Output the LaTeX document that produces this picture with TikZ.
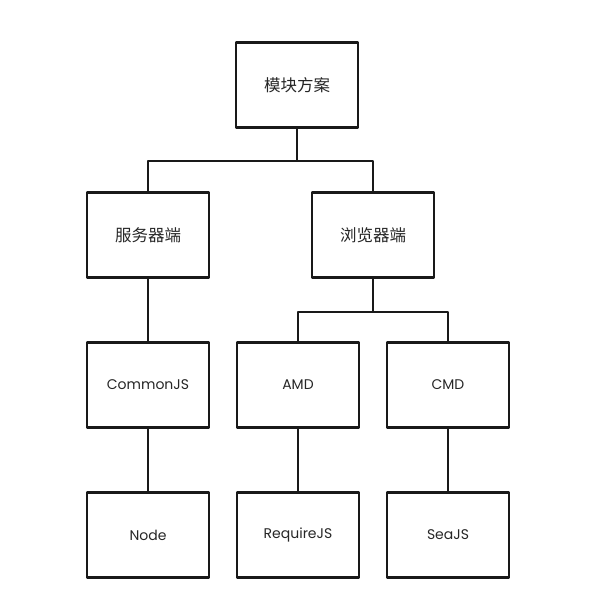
\documentclass[tikz,border=0pt]{standalone}
\usepackage{fontspec}
\setmainfont{Poppins}
\newfontfamily\cjk{Noto Sans CJK SC}
\usetikzlibrary{positioning}

\begin{document}
\begin{tikzpicture}
[x = 1pt, y = 1pt, line cap = round, line join = round,
module box/.style = {draw = black!90, line width = 2.4pt, minimum width = 122pt, minimum height = 85pt, inner sep = 0pt, text = black!85, font = \fontsize{14}{16}\selectfont},
cn box/.style = {module box, font = \cjk\fontsize{16.5}{18}\selectfont},
branch line/.style = {draw = black!90, line width = 1.6pt}]

\useasboundingbox (0, 0) rectangle (590, -610);

% top and second row
\node[cn box] (plan) at (297, -85) {模块方案};
\node[cn box] (server) at (148, -235) {服务器端};
\node[cn box] (browser) at (373, -235) {浏览器端};

% specifications
\node[module box, below = 62.6pt of server] (commonjs) {CommonJS};
\node[module box] (amd) at (298, -385) {AMD};
\node[module box, right = 25.6pt of amd] (cmd) {CMD};

% implementations
\node[module box, below = 62.6pt of commonjs] (node) {Node};
\node[module box, below = 62.6pt of amd] (requirejs) {RequireJS};
\node[module box, below = 62.6pt of cmd] (seajs) {SeaJS};

\begin{scope}[branch line]
\draw (plan.south) -- ++(0, -32) -| (server.north);
\draw (plan.south) -- ++(0, -32) -| (browser.north);
\draw (browser.south) -- ++(0, -33) -| (amd.north);
\draw (browser.south) -- ++(0, -33) -| (cmd.north);
\foreach \from/\to in {server/commonjs, commonjs/node, amd/requirejs, cmd/seajs}
  \draw (\from) -- (\to);
\end{scope}
\end{tikzpicture}
\end{document}
